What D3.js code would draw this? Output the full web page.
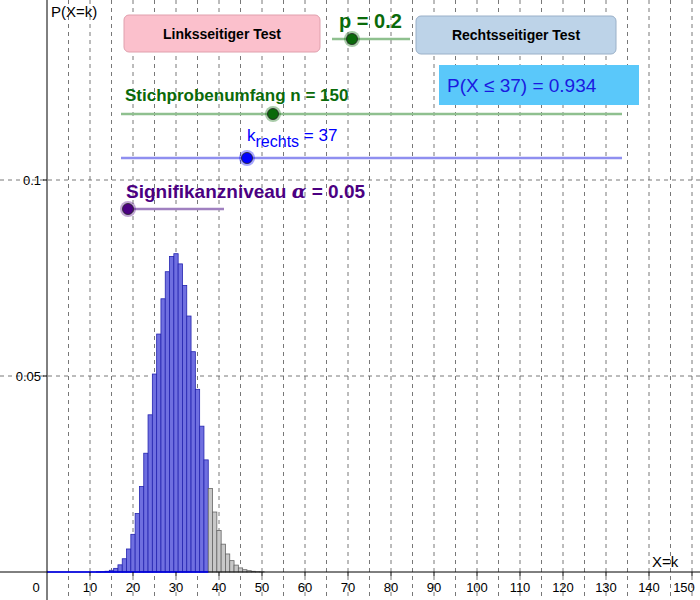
<!DOCTYPE html><html><head><meta charset="utf-8">
<script src="https://cdn.jsdelivr.net/npm/d3@7"></script>
<style>body{margin:0;background:#fff}svg{font-family:"Liberation Sans",Arial,sans-serif}</style></head><body>
<svg id="c" width="700" height="600"></svg>
<script>
const ks=[12,13,14,15,16,17,18,19,20,21,22,23,24,25,26,27,28,29,30,31,32,33,34,35,36,37,38,39,40,41,42,43,44,45,46,47,48,49,50];
const probs=[0.00003,0.00008,0.00019,0.00044,0.00093,0.00183,0.00338,0.00587,0.00961,0.0149,0.0218,0.0303,0.0401,0.0505,0.0607,0.0697,0.0766,0.0805,0.0812,0.0786,0.0731,0.0653,0.0562,0.0466,0.0372,0.0286,0.0213,0.0153,0.0106,0.0071,0.0046,0.0029,0.00176,0.00104,0.00059,0.00033,0.00018,0.00009,0.00005];
const kRight=37;
const xTicks=[10,20,30,40,50,60,70,80,90,100,110,120,130,140,150];
const yTicks=[0.05,0.1];
const svg=d3.select("#c");
const x=d3.scaleLinear().domain([0,150]).range([47,692]);
const y=d3.scaleLinear().domain([0,0.1]).range([572,180]);
for(let v=5;v<=160;v+=5){if(x(v)>700)break;svg.append("line").attr("x1",x(v)).attr("x2",x(v)).attr("y1",0).attr("y2",600).attr("stroke","#555").attr("stroke-dasharray","4,4").attr("stroke-width",0.8);}
yTicks.forEach(v=>svg.append("line").attr("x1",0).attr("x2",700).attr("y1",y(v)).attr("y2",y(v)).attr("stroke","#555").attr("stroke-dasharray","4,4").attr("stroke-width",0.8));
ks.forEach((k,i)=>{const blue=k<=kRight;svg.append("rect").attr("x",x(k-0.5)).attr("width",x(1)-x(0)).attr("y",y(probs[i])).attr("height",y(0)-y(probs[i]))
.attr("fill",blue?"#6f6fe0":"#c8c8c8").attr("stroke",blue?"#2424b0":"#666").attr("stroke-width",0.8);});
svg.append("line").attr("x1",0).attr("x2",700).attr("y1",y(0)).attr("y2",y(0)).attr("stroke","#000");
svg.append("line").attr("x1",x(0)).attr("x2",x(kRight+0.5)).attr("y1",y(0)).attr("y2",y(0)).attr("stroke","#00f").attr("stroke-width",1.5);
svg.append("line").attr("x1",x(0)).attr("x2",x(0)).attr("y1",0).attr("y2",600).attr("stroke","#000");
xTicks.forEach(v=>{svg.append("line").attr("x1",x(v)).attr("x2",x(v)).attr("y1",y(0)).attr("y2",y(0)+4).attr("stroke","#000");
svg.append("text").attr("x",Math.min(x(v),684)).attr("y",592).attr("text-anchor","middle").attr("font-size",13).text(v);});
svg.append("text").attr("x",36).attr("y",592).attr("text-anchor","middle").attr("font-size",13).text("0");
yTicks.forEach(v=>{svg.append("line").attr("x1",x(0)-4).attr("x2",x(0)).attr("y1",y(v)).attr("y2",y(v)).attr("stroke","#000");
svg.append("text").attr("x",41).attr("y",y(v)+5).attr("text-anchor","end").attr("font-size",13).text(v);});
svg.append("text").attr("x",51).attr("y",17).attr("font-size",15).text("P(X=k)");
svg.append("text").attr("x",652).attr("y",567).attr("font-size",15).text("X=k");
function btn(x0,y0,w,h,fill,stroke,t){svg.append("rect").attr("x",x0).attr("y",y0).attr("width",w).attr("height",h).attr("rx",5).attr("fill",fill).attr("stroke",stroke);
svg.append("text").attr("x",x0+w/2).attr("y",y0+h/2+5).attr("text-anchor","middle").attr("font-weight","bold").attr("font-size",14).text(t);}
btn(124,15,196,37,"#fbc0cc","#e0a0ad","Linksseitiger Test");
btn(416,16,200,38,"#bdd3e8","#9ab0c8","Rechtsseitiger Test");
function slider(x1,x2,yy,px,col,line){svg.append("line").attr("x1",x1).attr("x2",x2).attr("y1",yy).attr("y2",yy).attr("stroke",line).attr("stroke-width",2.5);
svg.append("circle").attr("cx",px).attr("cy",yy).attr("r",8).attr("fill",col).attr("fill-opacity",0.35);
svg.append("circle").attr("cx",px).attr("cy",yy).attr("r",5.5).attr("fill",col).attr("stroke","#222").attr("stroke-width",0.8);}
slider(332,410,39,352,"#0a6a0a","#8fc08f");
slider(121,622,114,273,"#0a6a0a","#8fc08f");
slider(121,622,158,247,"#0000ff","#8f8ff0");
slider(127,224,209,128,"#4b0082","#a080c0");
svg.append("text").attr("x",339).attr("y",28).attr("fill","#0a6a0a").attr("font-weight","bold").attr("font-size",20).text("p = 0.2");
svg.append("text").attr("x",125).attr("y",101).attr("fill","#0a6a0a").attr("font-weight","bold").attr("font-size",17).text("Stichprobenumfang n = 150");
const kt=svg.append("text").attr("x",247).attr("y",141).attr("fill","#0000ff").attr("font-size",17);
kt.append("tspan").text("k");kt.append("tspan").attr("dy",6).attr("font-size",16).text("rechts");kt.append("tspan").attr("dy",-6).text(" = 37");
const st=svg.append("text").attr("x",126).attr("y",198).attr("fill","#4b0082").attr("font-weight","bold").attr("font-size",19);
st.append("tspan").text("Signifikanzniveau  ");st.append("tspan").attr("font-style","italic").attr("font-family","DejaVu Serif").text("α");st.append("tspan").text(" = 0.05");
svg.append("rect").attr("x",439).attr("y",65).attr("width",200).attr("height",40).attr("fill","#5ac8fa");
svg.append("text").attr("x",447).attr("y",92).attr("fill","#1a1ae0").attr("font-size",19).text("P(X ≤ 37) = 0.934");
</script></body></html>
